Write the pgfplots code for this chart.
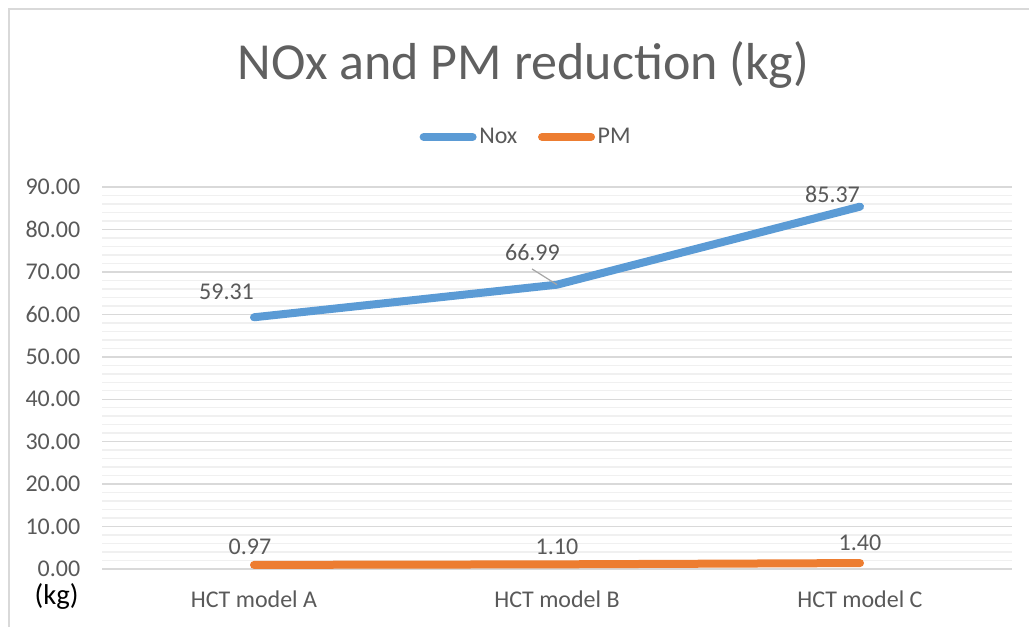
\documentclass[border=0pt]{standalone}
\usepackage{pgfplots}
\pgfplotsset{compat=1.18}
\usepackage{fontspec}
\setmainfont{Carlito}
\definecolor{noxblue}{HTML}{5B9BD5}
\definecolor{pmorange}{HTML}{ED7D31}
\definecolor{txtgray}{HTML}{595959}
\definecolor{titlegray}{HTML}{606060}
\definecolor{majgrid}{HTML}{D9D9D9}
\definecolor{mingrid}{HTML}{F0F0F0}
\definecolor{leader}{HTML}{A6A6A6}
\begin{document}
\begin{tikzpicture}
\useasboundingbox (0pt,0pt) rectangle (771.75pt,-469.5pt);
\draw[majgrid, line width=1.5pt] (6.4pt,-520pt) -- (6.4pt,-6.4pt) -- (820pt,-6.4pt);
\node[anchor=base, font=\fontsize{39}{46}\selectfont, text=titlegray, inner sep=0pt] at (392.6pt,-59.25pt) {NOx and PM reduction (kg)};
\node[anchor=center, font=\fontsize{21.5}{25}\selectfont, text=black, inner sep=0pt] at (42.4pt,-447pt) {(kg)};
\begin{axis}[
  at={(76.875pt,-426.75pt)}, anchor=south west,
  scale only axis, width=681.75pt, height=286.5pt,
  xmin=-0.5, xmax=2.5, ymin=0, ymax=90,
  ytick distance=10, minor y tick num=4,
  ymajorgrids, yminorgrids,
  major grid style={majgrid, line width=1.1pt},
  minor grid style={mingrid, line width=1.1pt},
  axis line style={draw=none},
  major tick length=0pt, minor tick length=0pt,
  xtick={0,1,2},
  xticklabels={HCT model A, HCT model B, HCT model C},
  xticklabel style={anchor=base, yshift=-28.5pt, inner sep=0pt, font=\fontsize{18}{21}\selectfont, text=txtgray},
  yticklabel style={anchor=east, inner sep=0pt, xshift=-16.5pt, font=\fontsize{18}{21}\selectfont, text=txtgray},
  /pgf/number format/.cd, fixed, fixed zerofill, precision=2, assume math mode=true,
  /pgfplots/.cd,
  clip=false,
  legend columns=2,
  legend style={at={(0.4664,1.131)}, anchor=center, draw=none, fill=none,
    font=\fontsize{18}{21}\selectfont, text=txtgray,
    /tikz/every even column/.append style={column sep=13.5pt}},
  legend image code/.code={\draw[#1, line width=6pt, line cap=round] (3pt,0pt) -- (39.75pt,0pt);},
]
\addplot[noxblue, line width=6pt, line cap=round, line join=round, mark=none] coordinates {(0,59.31) (1,66.99) (2,85.37)};
\addlegendentry{Nox}
\addplot[pmorange, line width=6pt, line cap=round, line join=round, mark=none] coordinates {(0,0.97) (1,1.10) (2,1.40)};
\addlegendentry{PM}
\draw[leader, line width=0.9pt] ([xshift=-18.75pt,yshift=11.8pt]axis cs:1,66.99) -- (axis cs:1,66.99);
\begin{scope}[every node/.style={font=\fontsize{18}{21}\selectfont, text=txtgray, inner sep=0pt, anchor=center}]
\node[xshift=-20.6pt, yshift=18.75pt] at (axis cs:0,59.31) {59.31};
\node[xshift=-18.4pt, yshift=24.5pt] at (axis cs:1,66.99) {66.99};
\node[xshift=-20.6pt, yshift=9.2pt] at (axis cs:2,85.37) {85.37};
\node[xshift=-3pt, yshift=13.8pt] at (axis cs:0,0.97) {0.97};
\node[xshift=0pt, yshift=12.8pt] at (axis cs:1,1.10) {1.10};
\node[xshift=0pt, yshift=15pt] at (axis cs:2,1.40) {1.40};
\end{scope}
\end{axis}
\end{tikzpicture}
\end{document}
